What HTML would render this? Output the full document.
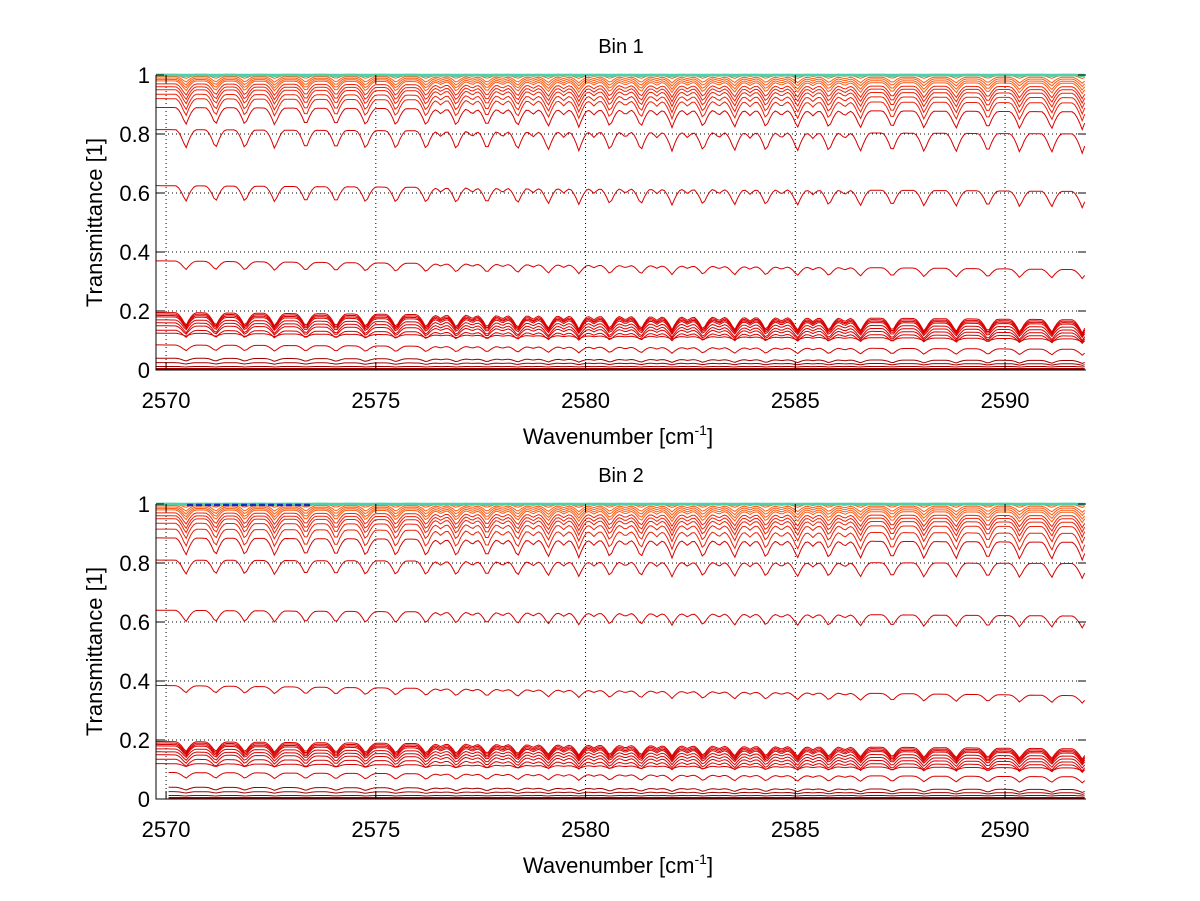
<!DOCTYPE html>
<html><head><meta charset="utf-8">
<style>
html,body{margin:0;padding:0;background:#fff;}
svg{display:block;font-family:"Liberation Sans",sans-serif;}
</style></head>
<body>
<svg id="fig" width="1200" height="901" viewBox="0 0 1200 901" xmlns="http://www.w3.org/2000/svg">
<rect x="0" y="0" width="1200" height="901" fill="#fff"/>
</svg>
<script>
// ---- data ----
const xTicks = [2570, 2575, 2580, 2585, 2590];
const yTicks = [0, 0.2, 0.4, 0.6, 0.8, 1];
const yTickLabels = ["0", "0.2", "0.4", "0.6", "0.8", "1"];
const strongLines = [2570.47,2571.18,2571.88,2572.59,2573.33,2574.05,2574.76,2575.48,2576.20,2576.92,2577.65,2578.38,2579.11,2579.84,2580.58,2581.32,2582.06,2582.80,2583.55,2584.30,2585.05,2585.80,2586.55,2587.31,2588.07,2588.83,2589.59,2590.35,2591.11,2591.84];
const weakLines = [2576.55,2577.30,2578.02,2578.75,2579.48,2580.20,2580.95,2581.70,2582.43,2583.18,2583.92,2584.67,2585.42,2586.18];
const levels1 = [1,1,0.998,0.995,0.99,0.985,0.98,0.97,0.96,0.95,0.935,0.92,0.89,0.815,0.625,0.37,0.195,0.19,0.185,0.18,0.17,0.16,0.15,0.135,0.125,0.085,0.04,0.025,0.012,0.005,0.002];
const depths1 = [0,0.003,0.01,0.02,0.025,0.03,0.035,0.04,0.045,0.05,0.055,0.06,0.06,0.065,0.055,0.03,0.045,0.045,0.04,0.04,0.035,0.035,0.03,0.025,0.01,0.02,0.01,0.005,0.002,0,0];
const drifts1 = [0,0,0,0.003,0.004,0.006,0.008,0.01,0.01,0.012,0.012,0.015,0.015,0.015,0.02,0.03,0.025,0.025,0.025,0.025,0.025,0.025,0.025,0.02,0.02,0.015,0.008,0.004,0,0,0];
const levels2 = [1,1,0.998,0.995,0.99,0.985,0.98,0.97,0.96,0.95,0.935,0.915,0.885,0.81,0.64,0.385,0.195,0.19,0.185,0.18,0.17,0.16,0.15,0.135,0.12,0.09,0.04,0.025,0.012,0.005,0.002];
const depths2 = [0,0.003,0.01,0.02,0.025,0.03,0.035,0.04,0.045,0.05,0.055,0.06,0.06,0.05,0.04,0.025,0.035,0.035,0.035,0.035,0.03,0.03,0.03,0.025,0.01,0.02,0.01,0.005,0.002,0,0];
const drifts2 = [0,0,0,0.003,0.004,0.006,0.008,0.01,0.01,0.012,0.012,0.015,0.015,0.012,0.02,0.035,0.025,0.025,0.025,0.025,0.025,0.025,0.025,0.02,0.015,0.015,0.008,0.004,0,0,0];

const NS = "http://www.w3.org/2000/svg";
const svg = document.getElementById('fig');
function mk(tag, attrs, parent){
  const e = document.createElementNS(NS, tag);
  for (const k in attrs) e.setAttribute(k, attrs[k]);
  (parent||svg).appendChild(e);
  return e;
}
function colorFor(L){
  if (L >= 0.999) return '#50d0a8';
  if (L > 0.975) return '#ff5a10';
  if (L > 0.9) return '#ee2008';
  if (L > 0.05) return '#d80000';
  return '#a00000';
}
function dip(dx, w){
  const a = Math.abs(dx) / w;
  return a >= 1 ? 0 : Math.pow(1 - a, 1.6);
}
function panel(cfg){
  const X0 = 2569.76, X1 = 2591.93;
  const left = 156, right = 1086, top = cfg.top, bottom = cfg.top + 295;
  const xs = v => left + (v - X0) / (X1 - X0) * (right - left);
  const ys = v => bottom - v * (bottom - top);
  const g = mk('g', {});
  
  
  xTicks.forEach(t => {
    const l = mk('line', {x1: xs(t), x2: xs(t), y1: top, y2: bottom, stroke: '#000', 'stroke-width': 1, 'stroke-dasharray': '1,3'}, g);
    
    
  });
  yTicks.forEach(t => {
    const l = mk('line', {x1: left, x2: right, y1: ys(t), y2: ys(t), stroke: '#000', 'stroke-width': 1, 'stroke-dasharray': '1,3'}, g);
    
    
  });
  const levels = cfg.levels, depths = cfg.depths, drifts = cfg.drifts;
  for (let i = levels.length - 1; i >= 0; i--) {
    let d = '';
    const start = (cfg.lateStart && levels[i] < 0.1) ? X0 + 0.3 : X0;
    for (let x = start; x <= X1 + 0.001; x += 0.06) {
      let v = levels[i] - drifts[i] * (x - X0) / (X1 - X0);
      strongLines.forEach(c => { v -= depths[i] * dip(x - c, 0.24); });
      weakLines.forEach(c => { v -= 0.3 * depths[i] * dip(x - c, 0.18); });
      v = Math.max(0.001, Math.min(1, v));
      d += (d ? 'L' : 'M') + xs(x).toFixed(1) + ',' + ys(v).toFixed(1);
    }
    const p = mk('path', {d: d, fill: 'none', stroke: colorFor(levels[i]), 'stroke-width': levels[i] >= 0.999 ? 2.5 : 1}, g);
    
    
  }
  if (cfg.blue) {
    const b = mk('line', {x1: xs(2570.5), x2: xs(2573.5), y1: top + 1, y2: top + 1, stroke: '#1030c0', 'stroke-width': 2.5, 'stroke-dasharray': '6,3'}, g);
    
    
  }
  const f = mk('path', {d: `M${left},${top}L${left},${bottom}L${right},${bottom}`, fill: 'none', stroke: '#000', 'stroke-width': 1}, g);
  
  
  xTicks.forEach(t => {
    mk('line', {x1: xs(t), x2: xs(t), y1: bottom, y2: bottom - 8, stroke: '#000'}, g);
    mk('line', {x1: xs(t), x2: xs(t), y1: top, y2: top + 8, stroke: '#000'}, g);
    const tx = mk('text', {x: xs(t), y: bottom + 38, 'font-size': 22, 'text-anchor': 'middle', fill: '#000'}, g);
    tx.textContent = t;
    
    
  });
  yTicks.forEach((t, k) => {
    mk('line', {x1: left, x2: left + 8, y1: ys(t), y2: ys(t), stroke: '#000'}, g);
    mk('line', {x1: right, x2: right - 8, y1: ys(t), y2: ys(t), stroke: '#000'}, g);
    const tx = mk('text', {x: left - 6, y: ys(t) + 8, 'font-size': 22, 'text-anchor': 'end', fill: '#000'}, g);
    tx.textContent = yTickLabels[k];
    
    
  });
  const title = mk('text', {x: 621, y: top - 22, 'font-size': 20, 'text-anchor': 'middle'}, g);
  title.textContent = cfg.title;
  
  
  const xl = mk('text', {x: 618, y: bottom + 74, 'font-size': 22, 'text-anchor': 'middle'}, g);
  xl.innerHTML = 'Wavenumber [cm<tspan dy="-9" font-size="14">-1</tspan><tspan dy="9">]</tspan>';
  
  
  const yl = mk('text', {x: 0, y: 0, 'font-size': 22, 'text-anchor': 'middle', transform: `translate(102,${(top + bottom) / 2}) rotate(-90)`}, g);
  yl.textContent = 'Transmittance [1]';
  
  
}
panel({name: 'panel-bin-1', title: 'Bin 1', top: 75, levels: levels1, depths: depths1, drifts: drifts1});
panel({name: 'panel-bin-2', title: 'Bin 2', top: 504, levels: levels2, depths: depths2, drifts: drifts2, blue: true, lateStart: true});
</script>
</body></html>
